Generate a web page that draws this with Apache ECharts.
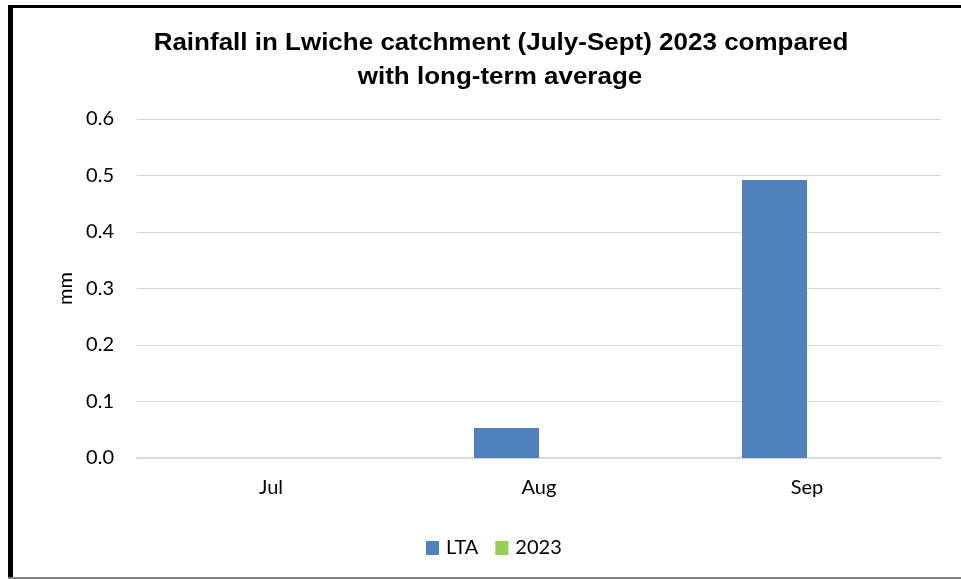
<!DOCTYPE html>
<html>
<head>
<meta charset="utf-8">
<script src="https://cdn.jsdelivr.net/npm/echarts@6/dist/echarts.min.js"></script>
<style>
  html, body { margin: 0; padding: 0; background: #fff; }
  #chart { width: 961px; height: 579px; }
</style>
</head>
<body>
<div id="chart"></div>
<script>
var months = ['Jul', 'Aug', 'Sep'];
var ltaValues = [0, 0.053, 0.492];
var values2023 = [0, 0, 0];
var yTicks = [0, 0.1, 0.2, 0.3, 0.4, 0.5, 0.6];
var titleLines = ['Rainfall in Lwiche catchment (July-Sept) 2023 compared', 'with long-term average'];

var chart = echarts.init(document.getElementById('chart'));
var labelFont = 'Lato, "Open Sans", sans-serif';
var titleStyle = {
  fontFamily: '"Liberation Sans", Arial, sans-serif',
  fontWeight: 'bold',
  fontSize: 23,
  fill: '#000',
  align: 'center',
  verticalAlign: 'middle'
};

var option = {
  animation: false,
  backgroundColor: '#fff',
  legend: {
    data: ['LTA', '2023'],
    left: 421,
    top: 533,
    itemWidth: 13,
    itemHeight: 14,
    itemGap: 17,
    icon: 'rect',
    textStyle: { fontFamily: labelFont, fontSize: 20, color: '#000', padding: [0, 0, 0, 2] }
  },
  grid: { left: 137, right: 20, top: 119, bottom: 121, containLabel: false },
  xAxis: {
    type: 'category',
    data: months,
    axisLine: { show: true, lineStyle: { color: '#d9d9d9', width: 2 } },
    axisTick: { show: false },
    axisLabel: { fontFamily: labelFont, fontSize: 20, color: '#000', margin: 20 }
  },
  yAxis: {
    type: 'value',
    min: yTicks[0],
    max: yTicks[yTicks.length - 1],
    interval: 0.1,
    name: 'mm',
    nameLocation: 'middle',
    nameGap: 61,
    nameTextStyle: { fontFamily: labelFont, fontSize: 20, color: '#000' },
    axisLine: { show: false },
    axisTick: { show: false },
    splitLine: { lineStyle: { color: '#d9d9d9', width: 1 } },
    axisLabel: {
      fontFamily: labelFont, fontSize: 20, color: '#000', margin: 23,
      formatter: function (v) { return v.toFixed(1); }
    }
  },
  series: [
    {
      name: 'LTA',
      type: 'bar',
      data: ltaValues,
      barWidth: 65,
      barGap: '0%',
      itemStyle: { color: '#4f81bd' }
    },
    {
      name: '2023',
      type: 'bar',
      data: values2023,
      barWidth: 65,
      itemStyle: { color: '#92d050' }
    }
  ],
  graphic: [
    { type: 'text', x: 501, y: 44, scaleX: 1.13, style: Object.assign({ text: titleLines[0] }, titleStyle) },
    { type: 'text', x: 500, y: 78, scaleX: 1.13, style: Object.assign({ text: titleLines[1] }, titleStyle) },
    { type: 'rect', shape: { x: 8, y: 5, width: 5, height: 574 }, style: { fill: '#000' } },
    { type: 'rect', shape: { x: 8, y: 5, width: 953, height: 3 }, style: { fill: '#000' } },
    { type: 'rect', shape: { x: 8, y: 577, width: 953, height: 2 }, style: { fill: '#808080' } }
  ]
};

chart.setOption(option);
</script>
</body>
</html>
